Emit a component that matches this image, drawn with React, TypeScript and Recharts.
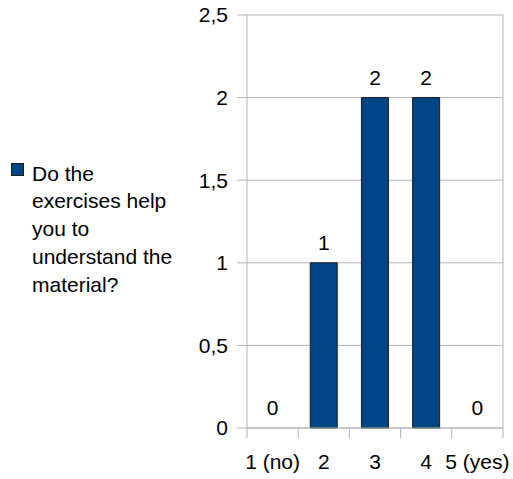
import React from "react";
import {
  ComposedChart,
  Bar,
  Line,
  XAxis,
  YAxis,
  CartesianGrid,
  LabelList,
} from "recharts";

const categories = ["1 (no)", "2", "3", "4", "5 (yes)"];
const counts = [0, 1, 2, 2, 0];
const yTicks = [0, 0.5, 1, 1.5, 2, 2.5];
const seriesName = "Do the exercises help you to understand the material?";

const FONT = '"Liberation Sans", Arial, sans-serif';
const FS = 21;
const GRID = "#b3b3b3";
const BAR = "#004586";

const W = 513;
const H = 479;
const MARGIN = { top: 15, right: 9, left: 187, bottom: 0 };
const Y_AXIS_W = 60;
const RIGHT_AXIS_W = 1;
const X_TICK_MARGIN = 26;
const plotWidth = W - MARGIN.left - MARGIN.right - Y_AXIS_W - RIGHT_AXIS_W;
const band = plotWidth / categories.length;

const data = categories.map((cat, i) => ({ cat, value: counts[i] }));

// category label plus the short tick marks that sit between the columns
const CategoryTick = (props: any) => {
  const { x, y, payload, index } = props;
  const axisY = y - X_TICK_MARGIN;
  const left = x - band / 2;
  const right = x + band / 2;
  return (
    <g>
      <line x1={left} x2={left} y1={axisY} y2={axisY + 10} stroke={GRID} />
      {index === categories.length - 1 && (
        <line x1={right} x2={right} y1={axisY} y2={axisY + 10} stroke={GRID} />
      )}
      <text
        x={x}
        y={y}
        dy="0.71em"
        textAnchor="middle"
        fill="#000"
        fontSize={FS}
        fontFamily={FONT}
      >
        {payload.value}
      </text>
    </g>
  );
};

export default function App() {
  return (
    <div
      style={{
        position: "absolute",
        left: 0,
        top: 0,
        width: W,
        height: H,
        background: "#fff",
        fontFamily: FONT,
      }}
    >
      <ComposedChart
        width={W}
        height={H}
        data={data}
        margin={MARGIN}
        barCategoryGap="23.5%"
      >
        <CartesianGrid vertical={false} stroke={GRID} />
        <XAxis
          dataKey="cat"
          interval={0}
          height={51}
          tickSize={0}
          tickMargin={X_TICK_MARGIN}
          axisLine={{ stroke: GRID }}
          tickLine={false}
          tick={<CategoryTick />}
        />
        <YAxis
          width={Y_AXIS_W}
          domain={[0, 2.5]}
          ticks={yTicks}
          interval={0}
          tickSize={10}
          tickMargin={9}
          tickFormatter={(v: number) => String(v).replace(".", ",")}
          axisLine={{ stroke: GRID }}
          tickLine={{ stroke: GRID }}
          tick={{ fill: "#000", fontSize: FS, fontFamily: FONT }}
        />
        {/* right-hand frame line of the plot area */}
        <YAxis
          yAxisId="frame"
          orientation="right"
          width={RIGHT_AXIS_W}
          domain={[0, 2.5]}
          tick={false}
          tickLine={false}
          axisLine={{ stroke: GRID }}
        />
        <Bar
          dataKey="value"
          name={seriesName}
          fill={BAR}
          stroke="#1c1c1c"
          strokeWidth={1}
          isAnimationActive={false}
        />
        {/* invisible series carrying the value labels, so zeros get one too */}
        <Line
          dataKey="value"
          stroke="none"
          dot={false}
          activeDot={false}
          legendType="none"
          isAnimationActive={false}
        >
          <LabelList
            dataKey="value"
            position="top"
            offset={13}
            fill="#000"
            fontSize={FS}
            fontFamily={FONT}
          />
        </Line>
      </ComposedChart>

      {/* legend, placed to the left of the plot */}
      <div
        style={{
          position: "absolute",
          left: 11,
          top: 163,
          width: 13,
          height: 13,
          boxSizing: "border-box",
          background: BAR,
          border: "1px solid #1c1c1c",
        }}
      />
      <div
        style={{
          position: "absolute",
          left: 32,
          top: 159.5,
          width: 150,
          fontSize: FS,
          lineHeight: "27.8px",
          color: "#000",
          fontFamily: FONT,
        }}
      >
        {seriesName}
      </div>
    </div>
  );
}
